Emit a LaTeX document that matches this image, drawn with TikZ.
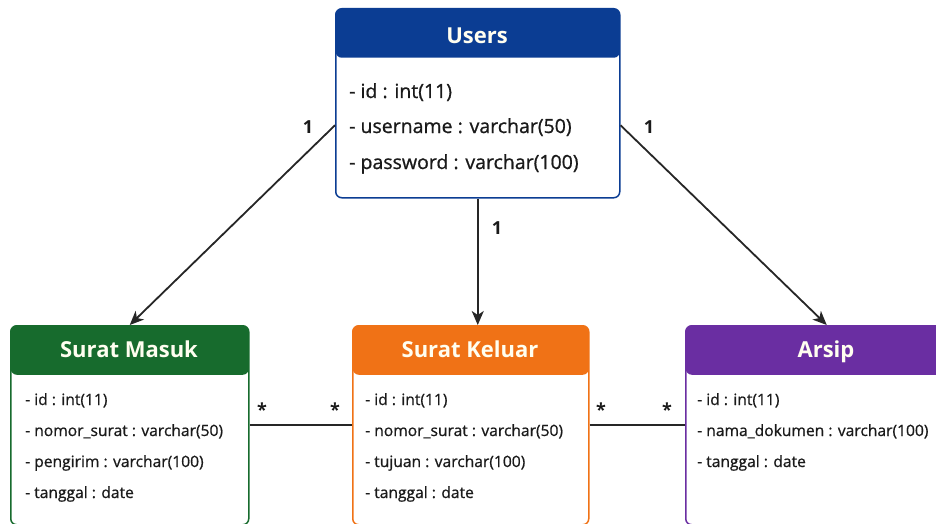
\documentclass[tikz,border=0pt]{standalone}
\usepackage{fontspec}
\setmainfont{Open Sans}
\newfontfamily\medfont[FakeBold=0.8]{Open Sans}
\usetikzlibrary{arrows.meta}
\definecolor{ublue}{HTML}{0B3D93}
\definecolor{ugreen}{HTML}{176B2D}
\definecolor{uorange}{HTML}{F07216}
\definecolor{upurple}{HTML}{6A2EA2}
\definecolor{utext}{HTML}{1A1A1A}
\tikzset{
  entity/.style={rectangle, draw=#1, line width=1.5pt, fill=white, rounded corners=6pt, anchor=north west, inner sep=0pt,
    path picture={\fill[#1] (path picture bounding box.north west) rectangle ([yshift=-49pt]path picture bounding box.north east);}},
  title/.style={font=\fontsize{22}{24}\selectfont\bfseries, text=white!94!yellow, inner sep=0pt, anchor=base},
  row/.style={font=\medfont\fontsize{19.5}{21}\selectfont, text=utext, anchor=base west, inner sep=0pt},
  srow/.style={font=\medfont\fontsize{15.6}{18}\selectfont, text=utext, anchor=base west, inner sep=0pt},
  card/.style={font=\fontsize{18}{19}\selectfont\bfseries, text=utext, inner sep=0pt},
  conn/.style={line width=1.8pt, draw=black!85},
  arr/.style={conn, -{Stealth[length=14pt, width=12pt, inset=4pt]}}
}
\begin{document}
\begin{tikzpicture}[x=1pt, y=-1pt]
\useasboundingbox (0,0) rectangle (936,524);
\fill[white] (0,0) rectangle (936,524);
% boxes
\node[entity=ublue, minimum width=284pt, minimum height=189pt] (users) at (335,8) {};
\node[entity=ugreen, minimum width=238pt, minimum height=199pt] (masuk) at (10,325) {};
\node[entity=uorange, minimum width=236pt, minimum height=199pt] (keluar) at (352,325) {};
\node[entity=upurple, minimum width=282pt, minimum height=199pt] (arsip) at (685,325) {};
% titles
\node[title] (tusers) at (477,44) {Users};
\node[title] (tmasuk) at (129,357) {Surat Masuk};
\node[title] (tkeluar) at (470,357) {Surat Keluar};
\node[title] (tarsip) at (826,357) {Arsip};
% users rows
\node[row] (u1) at (349,98) {- id : int(11)};
\node[row] (u2) at (349,133) {- username : varchar(50)};
\node[row] (u3) at (349,169) {- password : varchar(100)};
% masuk rows
\node[srow] (m1) at (25,405) {- id : int(11)};
\node[srow] (m2) at (25,436) {- nomor\_surat : varchar(50)};
\node[srow] (m3) at (25,467) {- pengirim : varchar(100)};
\node[srow] (m4) at (25,498) {- tanggal : date};
% keluar rows
\node[srow] (k1) at (365,405) {- id : int(11)};
\node[srow] (k2) at (365,436) {- nomor\_surat : varchar(50)};
\node[srow] (k3) at (365,467) {- tujuan : varchar(100)};
\node[srow] (k4) at (365,498) {- tanggal : date};
% arsip rows
\node[srow] (a1) at (697,405) {- id : int(11)};
\node[srow] (a2) at (697,436) {- nama\_dokumen : varchar(100)};
\node[srow] (a3) at (697,467) {- tanggal : date};
% connectors
\draw[arr] ([yshift=-22pt]users.west) -- (masuk.north);
\draw[arr] ([yshift=-22pt]users.east) -- (arsip.north);
\draw[arr] (users.south) -- (users.south |- keluar.north);
\draw[conn] (masuk.east) -- (keluar.west);
\draw[conn] (keluar.east) -- (arsip.west);
% cardinalities
\node[card] (c1) at (308,127) {1};
\node[card] (c2) at (649,127) {1};
\node[card] (c3) at (497,228) {1};
\node[card] (s1) at (262,410) {*};
\node[card] (s2) at (335,410) {*};
\node[card] (s3) at (601,410) {*};
\node[card] (s4) at (667,410) {*};
\end{tikzpicture}
\end{document}
